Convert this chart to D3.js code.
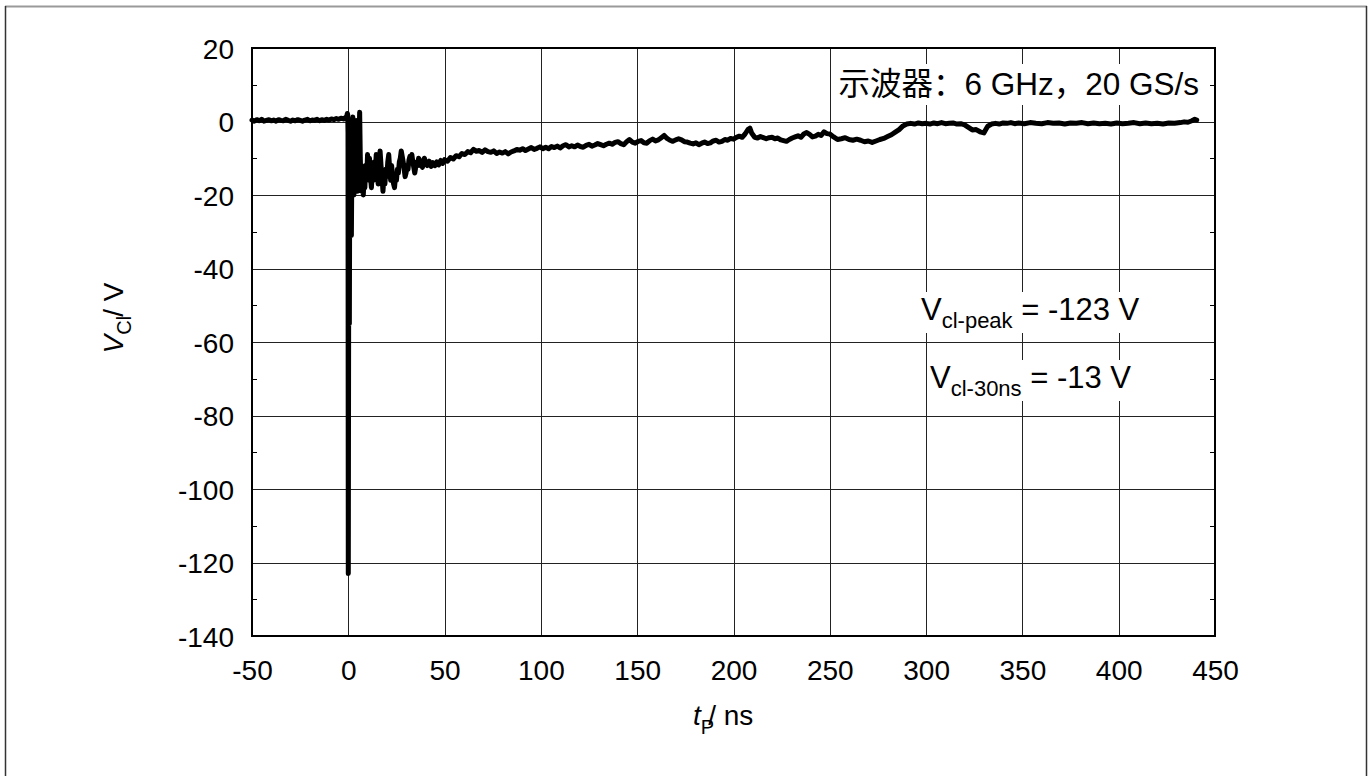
<!DOCTYPE html>
<html>
<head>
<meta charset="utf-8">
<script src="https://cdn.jsdelivr.net/npm/d3@7"></script>
<style>
  html, body { margin: 0; padding: 0; background: #fff; }
  svg { display: block; }
  text { font-family: "Liberation Sans", Arial, "Noto Sans CJK SC", sans-serif; fill: #000; }
</style>
</head>
<body>
<svg id="chart" width="1372" height="776"></svg>
<script>
// ---- data (time in ns, clamp voltage in V) ----
const xTicks = [-50, 0, 50, 100, 150, 200, 250, 300, 350, 400, 450];
const yTicks = [20, 0, -20, -40, -60, -80, -100, -120, -140];
const yMinorTicks = [10, -10, -30, -50, -70, -90, -110, -130];

const preTrigger = [[-50,0.4],[-48.8,0.1],[-47.5,0.5],[-46.2,0.2],[-45,0.6],[-43.8,0.1],[-42.5,0.3],[-41.2,0.5],[-40,0.2],[-38.8,0.4],[-37.5,0.1],[-36.2,0.5],[-35,0.3],[-33.8,0.2],[-32.5,0.6],[-31.2,0.3],[-30,0.1],[-28.8,0.4],[-27.5,0.2],[-26.2,0.5],[-25,0.3],[-23.8,0.1],[-22.5,0.4],[-21.2,0.6],[-20,0.2],[-18.8,0.4],[-17.5,0.3],[-16.2,0.6],[-15,0.2],[-13.8,0.5],[-12.5,0.3],[-11.2,0.6],[-10,0.4],[-8.8,0.7],[-7.5,0.5],[-6.2,0.8],[-5,0.6],[-3.8,0.9],[-2.5,0.7],[-1.5,1.1]];

const spike = [[-0.8,1.4],[-0.5,2.2],[-0.3,1.8],[-0.15,-3],[0,-123],[0.2,-45],[0.35,-9],[0.55,-55],[0.75,-12],[0.95,-5],[1.15,-10],[1.35,-4],[1.6,-31],[1.85,-12],[2.1,-3],[2.35,1.2],[2.6,-10],[2.9,-20],[3.2,-11],[3.5,-14],[3.8,-6],[4.1,0.3],[4.4,-10],[4.7,-19],[5.0,-13],[5.3,-17],[5.6,-4],[5.9,2.5],[6.2,-9],[6.5,-16],[6.8,-12],[7.1,-19],[7.5,-14],[7.8,-20]];

const ringing = [[8.2,-15],[8.6,-18],[9,-12],[9.5,-16],[10,-9],[10.5,-13],[11,-10],[11.5,-15],[12,-18],[12.5,-13],[13,-16],[13.5,-11],[14,-14],[14.5,-9],[15,-12],[15.5,-17],[16,-13],[16.5,-8],[17,-12],[17.5,-15],[18,-19],[18.5,-15],[19,-17],[19.5,-13],[20,-15],[20.5,-11],[21,-9],[21.5,-13],[22,-16],[22.5,-12],[23,-15],[23.5,-17],[24,-18],[24.5,-15],[25,-16],[25.5,-13],[26,-14],[26.5,-11],[27,-10],[27.5,-8],[28,-9.5],[28.5,-11],[29,-13],[29.5,-15],[30,-14],[30.5,-12],[31,-13],[31.5,-10.5],[32,-9.5],[32.5,-11],[33,-9],[33.5,-11],[34,-12.5],[34.5,-14],[35,-12.5],[35.5,-11],[36,-12],[36.5,-10],[37,-10.5],[37.5,-12],[38,-11],[38.5,-12.5],[39,-11],[39.5,-10],[40,-11],[41,-12],[42,-10.8],[43,-12.2],[44,-11.2],[45,-12],[46,-11],[47,-11.8],[48,-10.6],[49,-11.4],[50,-10.4]];

const settling = [[51.5,-10.8],[53,-9.8],[54.5,-10.2],[56,-9.3],[57.5,-9.6],[59,-8.7],[60.5,-9.0],[62,-8.2],[63.5,-8.5],[65,-7.6],[66.5,-8.1],[68,-7.9],[69.5,-8.4],[71,-7.7],[72.5,-8.2],[74,-8.4],[75.5,-8.0],[77,-8.7],[78.5,-8.3],[80,-8.6],[81.5,-8.2],[83,-8.8],[84.5,-8.3],[86,-8.0],[87.5,-7.6],[89,-7.8],[90.5,-7.4],[92,-7.9],[93.5,-7.5],[95,-7.1],[96.5,-7.6],[98,-7.3],[99.5,-6.9],[101,-7.4],[102.5,-7.0],[104,-7.4],[105.5,-6.8],[107,-7.1],[108.5,-6.7],[110,-7.2],[111.5,-6.6],[113,-6.3],[114.5,-6.9],[116,-6.6],[117.5,-6.9],[119,-6.4],[120.5,-6.8],[122,-7.0],[123.5,-6.5],[125,-6.2],[126.5,-6.7],[128,-6.4],[129.5,-6.0],[131,-6.3],[132.5,-6.6],[134,-6.2],[135.5,-5.9],[137,-6.2],[138.5,-5.7],[140,-5.5],[141.5,-6.0],[143,-6.3],[144.5,-5.5],[146,-4.9],[147.5,-5.6],[149,-5.9],[150.5,-5.4],[152,-5.2],[153.5,-5.8],[155,-5.9],[156.5,-5.2],[158,-4.8],[159.5,-5.3],[161,-5.0],[162.5,-4.4],[164,-3.8],[165.5,-4.6],[167,-5.1],[168.5,-5.4],[170,-5.0],[171.5,-4.7],[173,-5.0],[174.5,-5.5],[176,-5.6],[177.5,-5.9],[179,-6.1],[180.5,-5.8],[182,-6.3],[183.5,-5.9],[185,-5.6],[186.5,-6.0],[188,-5.8],[189.5,-5.3],[191,-5.1],[192.5,-5.6],[194,-5.4],[195.5,-4.9],[197,-5.1],[198.5,-4.6],[200,-4.8],[201.5,-4.3],[203,-4.0],[204.5,-4.3],[206,-3.4],[207.5,-2.2],[208.5,-1.8],[209.5,-3.2],[211,-4.3],[212.5,-4.5],[214,-4.1],[215.5,-4.4],[217,-4.7],[218.5,-4.4],[220,-4.3],[221.5,-4.7],[223,-4.5],[224.5,-5.0],[226,-5.2],[227.5,-5.4],[229,-4.9],[230.5,-4.5],[232,-4.2],[233.5,-3.9],[235,-4.3],[236.5,-3.4],[238,-3.0],[239.5,-3.5],[241,-4.2],[242.5,-4.0],[244,-3.5],[245.5,-3.8],[247,-2.8],[248.5,-3.3],[250,-3.4]];

const recovery = [[252,-4.2],[254,-4.9],[256,-4.7],[258,-4.4],[260,-4.9],[262,-5.1],[264,-4.8],[266,-5.1],[268,-5.5],[270,-5.3],[272,-5.7],[274,-5.3],[276,-4.9],[278,-4.6],[280,-4.1],[282,-3.6],[284,-2.9],[286,-2.2],[288,-1.2],[290,-0.7],[292,-0.5],[294,-0.7],[296,-0.4],[298,-0.6],[300,-0.5],[302,-0.7],[304,-0.4],[306,-0.6],[308,-0.3],[310,-0.6],[312,-0.5],[314,-0.4],[316,-0.7],[318,-0.6],[320,-0.9],[322,-1.6],[324,-2.3],[326,-2.2],[328,-2.8],[330,-3.1],[331,-2.2],[332,-1.3],[334,-0.7],[336,-0.5],[338,-0.7],[340,-0.4],[342,-0.5],[344,-0.3],[346,-0.6],[348,-0.4]];

const tail = [[351,-0.6],[354,-0.3],[357,-0.5],[360,-0.6],[363,-0.3],[366,-0.5],[369,-0.4],[372,-0.7],[375,-0.4],[378,-0.5],[381,-0.3],[384,-0.6],[387,-0.4],[390,-0.6],[393,-0.5],[396,-0.7],[399,-0.4],[402,-0.6],[405,-0.5],[408,-0.3],[411,-0.6],[414,-0.4],[417,-0.6],[420,-0.5],[423,-0.7],[426,-0.4],[429,-0.5],[432,-0.3],[434,-0.1],[436,-0.2],[438,0.2],[439.5,0.6],[440.5,0.4]];

const waveform = [].concat(preTrigger, spike, ringing, settling, recovery, tail);

// ---- layout ----
const svg = d3.select("#chart");
const plot = { left: 252, right: 1215, top: 48, bottom: 636 };

const x = d3.scaleLinear().domain([-50, 450]).range([plot.left, plot.right]);
const y = d3.scaleLinear().domain([-140, 20]).range([plot.bottom, plot.top]);

// outer frame of the figure
svg.append("line").attr("x1", 5).attr("x2", 1367).attr("y1", 6.5).attr("y2", 6.5)
  .attr("stroke", "#9a9a9a").attr("stroke-width", 2);
svg.append("line").attr("x1", 5.5).attr("x2", 5.5).attr("y1", 6).attr("y2", 776)
  .attr("stroke", "#333").attr("stroke-width", 1.5);
svg.append("line").attr("x1", 1366.5).attr("x2", 1366.5).attr("y1", 6).attr("y2", 776)
  .attr("stroke", "#333").attr("stroke-width", 1.5);

// grid
const grid = svg.append("g");
grid.selectAll("line.vx").data(xTicks.slice(1, -1)).join("line")
  .attr("x1", d => Math.round(x(d)) + 0.5).attr("x2", d => Math.round(x(d)) + 0.5)
  .attr("y1", plot.top).attr("y2", plot.bottom)
  .attr("stroke", "#222").attr("stroke-width", 1);
grid.selectAll("line.hy").data(yTicks.slice(1, -1)).join("line")
  .attr("y1", d => Math.round(y(d)) + 0.5).attr("y2", d => Math.round(y(d)) + 0.5)
  .attr("x1", plot.left).attr("x2", plot.right)
  .attr("stroke", "#222").attr("stroke-width", 1);

// minor ticks (inside, left and right)
const minor = svg.append("g");
minor.selectAll("line.l").data(yMinorTicks).join("line")
  .attr("x1", plot.left).attr("x2", plot.left + 5)
  .attr("y1", d => Math.round(y(d)) + 0.5).attr("y2", d => Math.round(y(d)) + 0.5)
  .attr("stroke", "#000").attr("stroke-width", 1);
minor.selectAll("line.r").data(yMinorTicks).join("line")
  .attr("x1", plot.right - 5).attr("x2", plot.right)
  .attr("y1", d => Math.round(y(d)) + 0.5).attr("y2", d => Math.round(y(d)) + 0.5)
  .attr("stroke", "#000").attr("stroke-width", 1);

// axes via d3 (labels only; frame drawn separately)
const fmt = d => String(d);
const xAxis = svg.append("g").attr("transform", `translate(0,${plot.bottom})`)
  .call(d3.axisBottom(x).tickValues(xTicks).tickSize(0).tickPadding(24).tickFormat(fmt));
const yAxis = svg.append("g").attr("transform", `translate(${plot.left},0)`)
  .call(d3.axisLeft(y).tickValues(yTicks).tickSize(0).tickPadding(18).tickFormat(fmt));
[xAxis, yAxis].forEach(a => {
  a.select(".domain").remove();
  a.selectAll("text").attr("font-size", 28).attr("font-family", "Liberation Sans, Arial, sans-serif").attr("fill", "#000");
});
yAxis.selectAll("text").attr("dy", "0.36em");

// annotations with white backgrounds
const ann = svg.append("g");
function boxed(textSel, pad) {
  const b = textSel.node().getBBox();
  ann.insert("rect", () => textSel.node())
    .attr("x", b.x - pad[3]).attr("y", b.y - pad[0])
    .attr("width", b.width + pad[1] + pad[3]).attr("height", b.height + pad[0] + pad[2])
    .attr("fill", "#fff");
}

// waveform
const line = d3.line().x(d => x(d[0])).y(d => y(d[1]));
svg.append("path").datum(waveform)
  .attr("d", line).attr("fill", "none").attr("stroke", "#000")
  .attr("stroke-width", 5).attr("stroke-linejoin", "round").attr("stroke-linecap", "round");

// plot frame
svg.append("rect").attr("x", plot.left).attr("y", plot.top)
  .attr("width", plot.right - plot.left).attr("height", plot.bottom - plot.top)
  .attr("fill", "none").attr("stroke", "#000").attr("stroke-width", 2);

// top-right scope annotation
const t1 = ann.append("text").attr("x", 1199).attr("y", 95).attr("text-anchor", "end")
  .attr("font-size", 31.5).attr("font-family", "Liberation Sans, Arial, Noto Sans CJK SC, sans-serif")
  .text("示波器：6 GHz，20 GS/s");
boxed(t1, [2, 4, 3, 4]);

const t2 = ann.append("text").attr("x", 921).attr("y", 320).attr("font-size", 31);
t2.append("tspan").text("V");
t2.append("tspan").attr("font-size", 22).attr("dy", 8).text("cl-peak");
t2.append("tspan").attr("dy", -8).text(" = -123 V");
boxed(t2, [0, 3, 0, 4]);

const t3 = ann.append("text").attr("x", 930).attr("y", 388).attr("font-size", 31);
t3.append("tspan").text("V");
t3.append("tspan").attr("font-size", 22).attr("dy", 8).text("cl-30ns");
t3.append("tspan").attr("dy", -8).text(" = -13 V");
boxed(t3, [0, 3, 0, 0]);

// axis titles
const yt = svg.append("text").attr("transform", "translate(123,318) rotate(-90)")
  .attr("text-anchor", "middle").attr("font-size", 28);
yt.append("tspan").attr("font-style", "italic").text("V");
yt.append("tspan").attr("font-size", 20).attr("dy", 8).text("Cl");
yt.append("tspan").attr("dy", -8).attr("dx", -1).text("/ V");

const xt = svg.append("text").attr("x", 693).attr("y", 725).attr("font-size", 28);
xt.append("tspan").attr("font-style", "italic").text("t");
xt.append("tspan").attr("font-size", 20).attr("dy", 9).text("P");
xt.append("tspan").attr("dy", -9).attr("dx", -6).text("/ ns");
</script>
</body>
</html>
